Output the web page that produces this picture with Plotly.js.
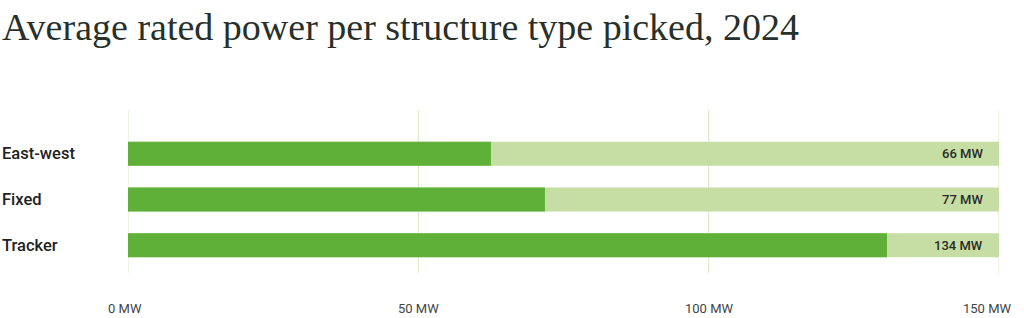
<!DOCTYPE html>
<html>
<head>
<meta charset="utf-8">
<script src="https://cdn.plot.ly/plotly-3.0.1.min.js"></script>
<style>html,body{margin:0;padding:0;background:#fff}#chart{width:1024px;height:318px}</style>
</head>
<body>
<div id="chart"></div>
<script>
// Data
const categories = ["East-west", "Fixed", "Tracker"];
const barValues = [62.5, 71.8, 130.7];          // bar lengths as drawn (MW)
const valueLabels = ["66 MW", "77 MW", "134 MW"]; // printed labels
const axisMax = 150;
const tickValues = [0, 50, 100, 150];
const tickLabels = ["0 MW", "50 MW", "100 MW", "150 MW"];

const darkGreen = "#5fb038";
const lightGreen = "#c6dea3";
const gridGreen = "#d6e9c1";

const traces = [
  {
    type: "bar", orientation: "h",
    y: categories, x: categories.map(() => axisMax),
    marker: {color: lightGreen, line: {width: 0}},
    width: 0.524, hoverinfo: "skip", showlegend: false
  },
  {
    type: "bar", orientation: "h",
    y: categories, x: barValues,
    marker: {color: darkGreen, line: {width: 0}},
    width: 0.524, hoverinfo: "skip", showlegend: false
  }
];

const plotW = 871.5;
const annotations = [];
categories.forEach((c, i) => {
  annotations.push({
    xref: "paper", yref: "y", x: -128 / plotW, y: c,
    xanchor: "left", yanchor: "middle", showarrow: false,
    text: c, font: {family: "Roboto", size: 16.5, color: "#222", weight: 500}
  });
  annotations.push({
    xref: "x", yref: "y", x: axisMax, y: c, xshift: -14,
    xanchor: "right", yanchor: "middle", showarrow: false,
    text: valueLabels[i], font: {family: "Roboto", size: 13, color: "#2b2b2b", weight: 500}
  });
});
// x tick labels (last one kept inside the chart, as in the reference)
tickValues.forEach((v, i) => {
  const last = i === tickValues.length - 1;
  annotations.push({
    xref: "x", yref: "paper", x: v, y: 0, yshift: -35,
    xanchor: last ? "right" : "center", xshift: last ? 14 : (i === 0 ? -3 : 0),
    yanchor: "middle", showarrow: false,
    text: tickLabels[i], font: {family: "Roboto", size: 13, color: "#444"}
  });
});

// vertical grid lines at the tick values
const shapes = tickValues.map(v => ({
  type: "line", xref: "x", yref: "paper", x0: v, x1: v, y0: 0, y1: 1,
  line: {color: gridGreen, width: 1}, layer: "below"
}));

const layout = {
  width: 1024, height: 318,
  paper_bgcolor: "#fff", plot_bgcolor: "#fff",
  margin: {l: 127.5, r: 25, t: 110, b: 45, pad: 0},
  barmode: "overlay",
  title: {
    text: "Average rated power per structure type picked, 2024",
    font: {family: "Liberation Serif", size: 38, color: "#27302a"},
    xref: "container", yref: "container",
    x: 2 / 1024, xanchor: "left",
    y: 1 - 27 / 318, yanchor: "middle"
  },
  xaxis: {
    range: [0, axisMax],
    showgrid: false, zeroline: false, showline: false,
    showticklabels: false, ticks: "", fixedrange: true
  },
  yaxis: {
    type: "category",
    range: [2.605, -0.954],
    showticklabels: false, showgrid: false, zeroline: false, showline: false,
    ticks: "", fixedrange: true
  },
  shapes: shapes,
  annotations: annotations,
  showlegend: false
};

Plotly.newPlot("chart", traces, layout, {displayModeBar: false, staticPlot: true});
</script>
</body>
</html>
